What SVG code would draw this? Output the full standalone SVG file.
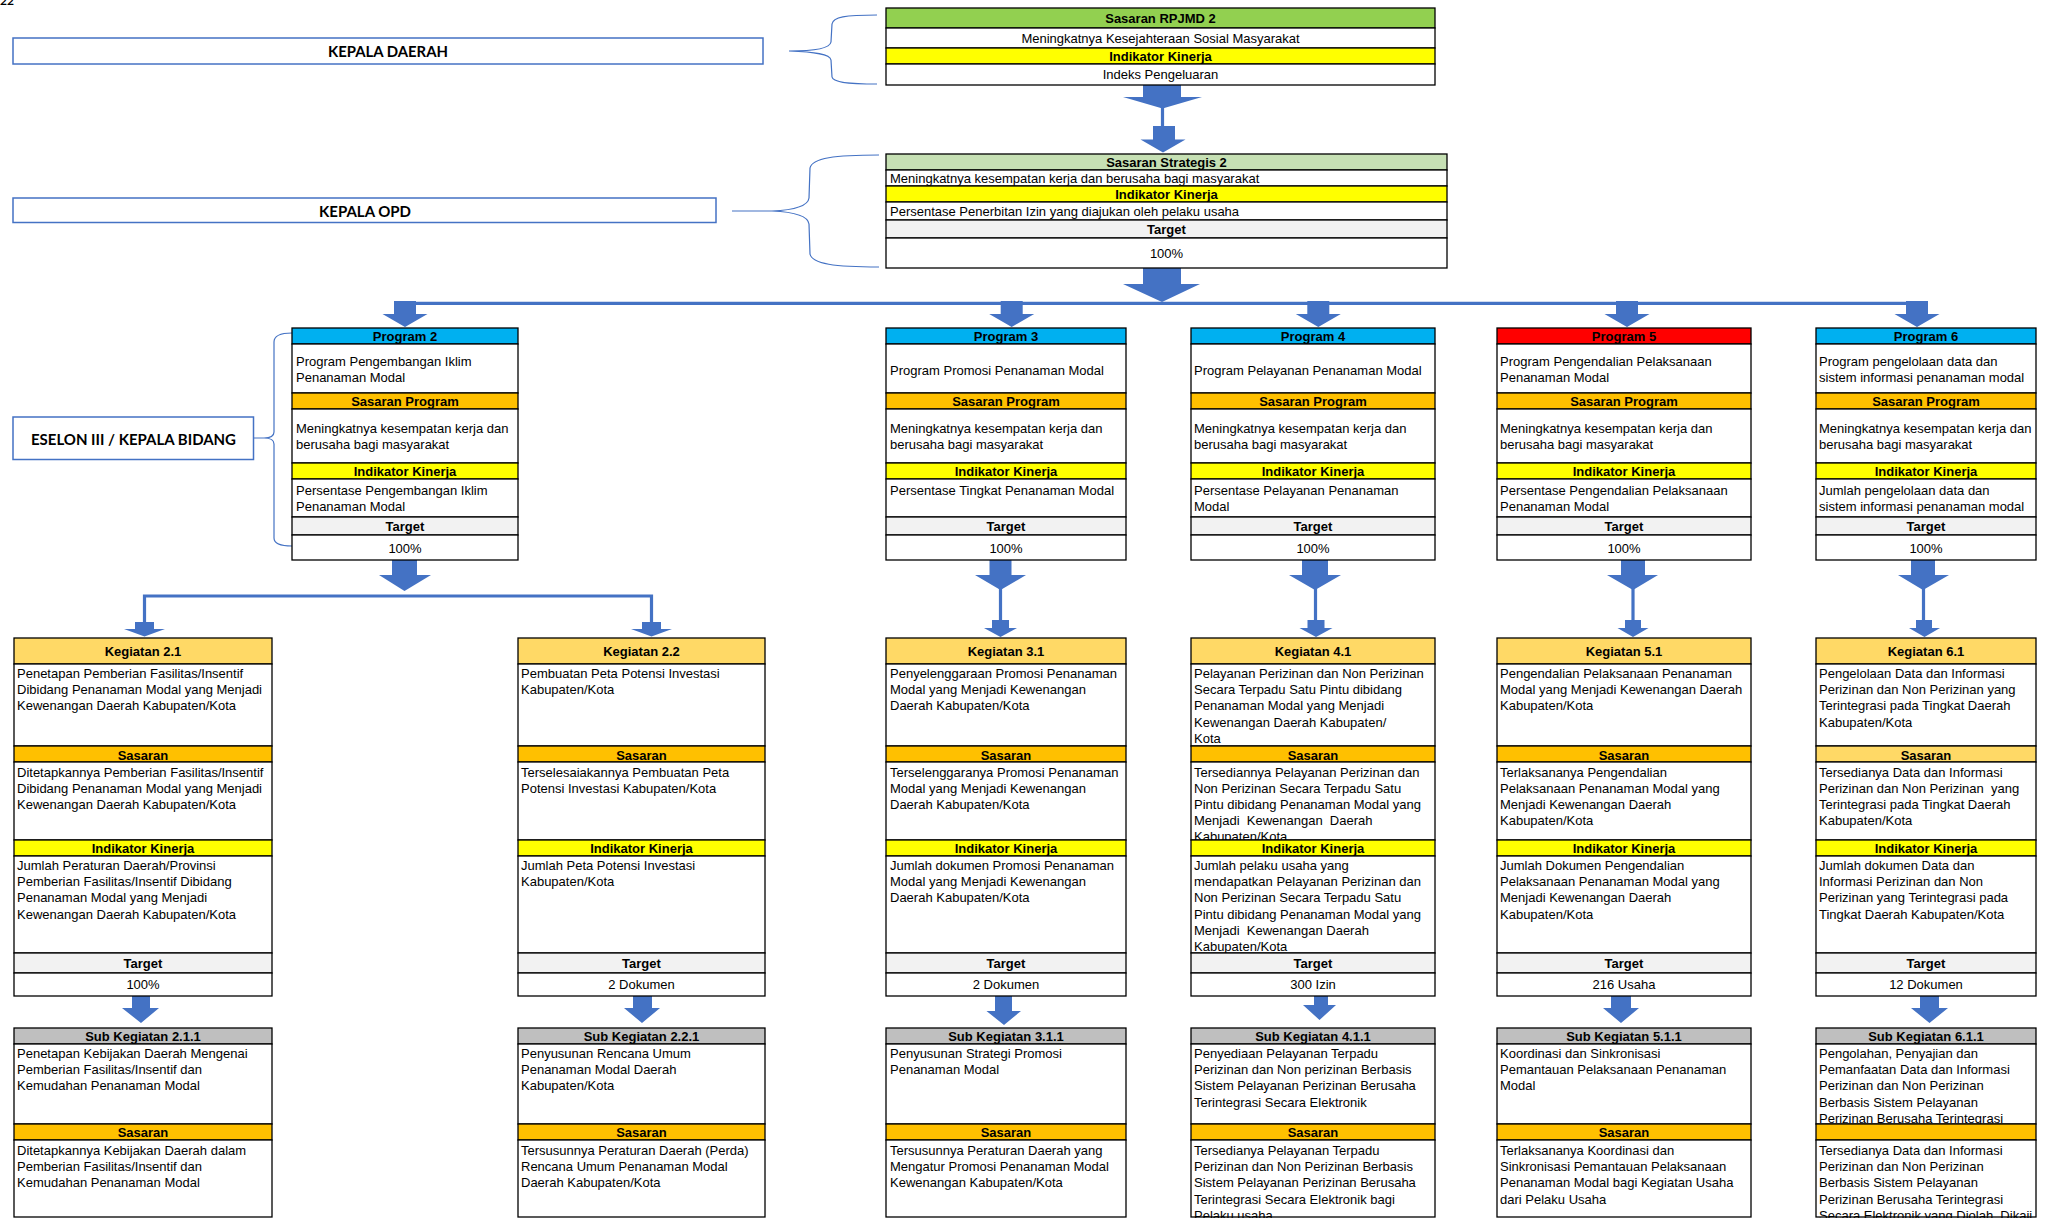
<svg xmlns="http://www.w3.org/2000/svg" width="2046" height="1218" viewBox="0 0 2046 1218">
<style>
.t{font-family:"Liberation Sans",Arial,sans-serif;font-size:13px;fill:#000}
.h{font-weight:bold;text-anchor:middle}
.c{text-anchor:middle}
.bx{stroke:#000;stroke-width:1.3}
.w{fill:#fff}
.gr{fill:#92D050}.lg{fill:#C6E0B4}.ye{fill:#FFFF00}.bl{fill:#00B0F0}.rd{fill:#FF0000}
.or{fill:#FFC000}.go{fill:#FFD966}.tg{fill:#F2F2F2}.sg{fill:#BFBFBF}
.ar{fill:#4472C4}
.ln{fill:none;stroke:#4472C4;stroke-width:3.2}
.br{fill:none;stroke:#4472C4;stroke-width:1.2}
.lb{fill:#fff;stroke:#4472C4;stroke-width:1.5}
.lt{font-family:Lato,"Open Sans",sans-serif;font-weight:bold;font-size:16px;text-anchor:middle;fill:#000}
</style>
<rect width="2046" height="1218" fill="#fff"/>
<text x="0" y="5" style="font-family:Lato,sans-serif;font-weight:bold;font-size:12px">22</text>

<!-- role labels -->
<g id="kepala-daerah">
<rect class="lb" x="13" y="38" width="750" height="26"/>
<text class="lt" x="388" y="57" textLength="120" lengthAdjust="spacingAndGlyphs">KEPALA DAERAH</text>
</g>
<g id="kepala-opd">
<rect class="lb" x="13" y="198" width="703" height="24.5"/>
<text class="lt" x="365" y="216.5" textLength="92" lengthAdjust="spacingAndGlyphs">KEPALA OPD</text>
</g>
<g id="eselon-iii">
<rect class="lb" x="13" y="417" width="240.5" height="42.5"/>
<text class="lt" x="133.5" y="445" textLength="205" lengthAdjust="spacingAndGlyphs">ESELON III / KEPALA BIDANG</text>
</g>

<!-- connectors -->
<g id="connectors">
<path class="br" d="M877,15 C845,15 833,17 832,24 L831,42 C830,48 815,51 789,51 C815,52 830,54 831,60 L832,77 C833,82 845,84 877,84"/>
<path class="br" d="M732,211 H772 M879,155 C835,155 812,158 810,168 L809,198 C808,206 795,210 772,211 C795,212 808,216 809,224 L810,254 C812,264 835,267 879,267"/>
<path class="br" d="M254,438 H264 M292,333 C280,333 274,336 274,342 L274,432 C274,436 271,438 264,438 C271,438 274,440 274,444 L274,538 C274,543 280,546 292,546"/>

<polygon class="ar" points="1143,85 1181,85 1181,97 1202,97 1162.5,108.5 1123,97 1143,97"/>
<line class="ln" x1="1162.5" y1="107" x2="1162.5" y2="127"/>
<polygon class="ar" points="1153,126 1175,126 1175,139.5 1185.5,139.5 1163,152.5 1140.5,139.5 1153,139.5"/>

<polygon class="ar" points="1143,268 1181,268 1181,284 1200,284 1162,302 1123,284 1143,284"/>
<line class="ln" x1="405" y1="303.3" x2="1917" y2="303.3"/>
<polygon class="ar" points="394,301 416,301 416,314 427.5,314 405,327 382.5,314 394,314"/>
<polygon class="ar" points="1000.7,301 1022.7,301 1022.7,314 1034.2,314 1011.7,327 989.2,314 1000.7,314"/>
<polygon class="ar" points="1307.3,301 1329.3,301 1329.3,314 1340.8,314 1318.3,327 1295.8,314 1307.3,314"/>
<polygon class="ar" points="1616,301 1638,301 1638,314 1649.5,314 1627,327 1604.5,314 1616,314"/>
<polygon class="ar" points="1906,301 1928,301 1928,314 1939.5,314 1917,327 1894.5,314 1906,314"/>

<polygon class="ar" points="392,560 417,560 417,575 431,575 404.5,591 379,575 392,575"/>
<path class="ln" d="M144.5,624 V596 H651.5 V624"/>
<polygon class="ar" points="135,622 154,622 154,629 165,629 144.5,636.5 124,629 135,629"/>
<polygon class="ar" points="642,622 661,622 661,629 672,629 651.5,636.5 631,629 642,629"/>

<polygon class="ar" points="989.5,560 1011.5,560 1011.5,575 1026,575 1000.5,590 975,575 989.5,575"/>
<line class="ln" x1="1000.5" y1="588" x2="1000.5" y2="621"/>
<polygon class="ar" points="992,620 1009,620 1009,628 1017,628 1000.5,637 984,628 992,628"/>

<polygon class="ar" points="1302,560 1328,560 1328,575 1341,575 1315,590 1289,575 1302,575"/>
<line class="ln" x1="1315.5" y1="588" x2="1315.5" y2="621"/>
<polygon class="ar" points="1307.5,620 1324.5,620 1324.5,628 1332.5,628 1316,637 1299.5,628 1307.5,628"/>

<polygon class="ar" points="1621,560 1645,560 1645,575 1658,575 1633,590 1607,575 1621,575"/>
<line class="ln" x1="1633" y1="588" x2="1633" y2="621"/>
<polygon class="ar" points="1625,620 1641,620 1641,628 1648.5,628 1633,637 1617.5,628 1625,628"/>

<polygon class="ar" points="1911,560 1935,560 1935,575 1949,575 1923,590 1898,575 1911,575"/>
<line class="ln" x1="1923.5" y1="588" x2="1923.5" y2="621"/>
<polygon class="ar" points="1916,620 1932,620 1932,628 1940,628 1924.5,637 1909,628 1916,628"/>

<polygon class="ar" points="132,996 150,996 150,1008 159,1008 141,1023 122,1008 132,1008"/>
<polygon class="ar" points="633,996 652,996 652,1008 660,1008 642,1023 624,1008 633,1008"/>
<polygon class="ar" points="995,996 1012,996 1012,1011 1021,1011 1004,1025 986.5,1011 995,1011"/>
<polygon class="ar" points="1314,996 1328,996 1328,1005 1336,1005 1319.5,1020 1303,1005 1314,1005"/>
<polygon class="ar" points="1611,996 1631,996 1631,1008 1639,1008 1621,1023 1603,1008 1611,1008"/>
<polygon class="ar" points="1920,996 1939,996 1939,1008 1948,1008 1929.5,1023 1911,1008 1920,1008"/>
</g>

<!-- top -->
<g id="sasaran-rpjmd-2">
<rect class="bx gr" x="886" y="8" width="549" height="20"/>
<text class="t h" x="1160.5" y="23">Sasaran RPJMD 2</text>
<rect class="bx w" x="886" y="28" width="549" height="20"/>
<text class="t c" x="1160.5" y="43">Meningkatnya Kesejahteraan Sosial Masyarakat</text>
<rect class="bx ye" x="886" y="48" width="549" height="16"/>
<text class="t h" x="1160.5" y="61">Indikator Kinerja</text>
<rect class="bx w" x="886" y="64" width="549" height="21"/>
<text class="t c" x="1160.5" y="79">Indeks Pengeluaran</text>
</g>

<g id="sasaran-strategis-2">
<rect class="bx lg" x="886" y="154" width="561" height="16"/>
<text class="t h" x="1166.5" y="167">Sasaran Strategis 2</text>
<rect class="bx w" x="886" y="170" width="561" height="16"/>
<text class="t" x="890" y="183">Meningkatnya kesempatan kerja dan berusaha bagi masyarakat</text>
<rect class="bx ye" x="886" y="186" width="561" height="16"/>
<text class="t h" x="1166.5" y="199">Indikator Kinerja</text>
<rect class="bx w" x="886" y="202" width="561" height="18"/>
<text class="t" x="890" y="216">Persentase Penerbitan Izin yang diajukan oleh pelaku usaha</text>
<rect class="bx tg" x="886" y="220" width="561" height="18"/>
<text class="t h" x="1166.5" y="234">Target</text>
<rect class="bx w" x="886" y="238" width="561" height="30"/>
<text class="t c" x="1166.5" y="258">100%</text>
</g>

<!-- programs -->
<g id="program-2">
<rect class="bx bl" x="292" y="328" width="226" height="16"/>
<text class="t h" x="405" y="341">Program 2</text>
<rect class="bx w" x="292" y="344" width="226" height="49"/>
<text class="t" x="296" y="366">Program Pengembangan Iklim<tspan x="296" dy="16">Penanaman Modal</tspan></text>
<rect class="bx or" x="292" y="393" width="226" height="16"/>
<text class="t h" x="405" y="406">Sasaran Program</text>
<rect class="bx w" x="292" y="409" width="226" height="54"/>
<text class="t" x="296" y="433">Meningkatnya kesempatan kerja dan<tspan x="296" dy="16">berusaha bagi masyarakat</tspan></text>
<rect class="bx ye" x="292" y="463" width="226" height="16"/>
<text class="t h" x="405" y="476">Indikator Kinerja</text>
<rect class="bx w" x="292" y="479" width="226" height="38"/>
<text class="t" x="296" y="495">Persentase Pengembangan Iklim<tspan x="296" dy="16">Penanaman Modal</tspan></text>
<rect class="bx tg" x="292" y="517" width="226" height="18"/>
<text class="t h" x="405" y="531">Target</text>
<rect class="bx w" x="292" y="535" width="226" height="25"/>
<text class="t c" x="405" y="553">100%</text>
</g>

<g id="program-3">
<rect class="bx bl" x="886" y="328" width="240" height="16"/>
<text class="t h" x="1006" y="341">Program 3</text>
<rect class="bx w" x="886" y="344" width="240" height="49"/>
<text class="t" x="890" y="375">Program Promosi Penanaman Modal</text>
<rect class="bx or" x="886" y="393" width="240" height="16"/>
<text class="t h" x="1006" y="406">Sasaran Program</text>
<rect class="bx w" x="886" y="409" width="240" height="54"/>
<text class="t" x="890" y="433">Meningkatnya kesempatan kerja dan<tspan x="890" dy="16">berusaha bagi masyarakat</tspan></text>
<rect class="bx ye" x="886" y="463" width="240" height="16"/>
<text class="t h" x="1006" y="476">Indikator Kinerja</text>
<rect class="bx w" x="886" y="479" width="240" height="38"/>
<text class="t" x="890" y="495">Persentase Tingkat Penanaman Modal</text>
<rect class="bx tg" x="886" y="517" width="240" height="18"/>
<text class="t h" x="1006" y="531">Target</text>
<rect class="bx w" x="886" y="535" width="240" height="25"/>
<text class="t c" x="1006" y="553">100%</text>
</g>

<g id="program-4">
<rect class="bx bl" x="1191" y="328" width="244" height="16"/>
<text class="t h" x="1313" y="341">Program 4</text>
<rect class="bx w" x="1191" y="344" width="244" height="49"/>
<text class="t" x="1194" y="375">Program Pelayanan Penanaman Modal</text>
<rect class="bx or" x="1191" y="393" width="244" height="16"/>
<text class="t h" x="1313" y="406">Sasaran Program</text>
<rect class="bx w" x="1191" y="409" width="244" height="54"/>
<text class="t" x="1194" y="433">Meningkatnya kesempatan kerja dan<tspan x="1194" dy="16">berusaha bagi masyarakat</tspan></text>
<rect class="bx ye" x="1191" y="463" width="244" height="16"/>
<text class="t h" x="1313" y="476">Indikator Kinerja</text>
<rect class="bx w" x="1191" y="479" width="244" height="38"/>
<text class="t" x="1194" y="495">Persentase Pelayanan Penanaman<tspan x="1194" dy="16">Modal</tspan></text>
<rect class="bx tg" x="1191" y="517" width="244" height="18"/>
<text class="t h" x="1313" y="531">Target</text>
<rect class="bx w" x="1191" y="535" width="244" height="25"/>
<text class="t c" x="1313" y="553">100%</text>
</g>

<g id="program-5">
<rect class="bx rd" x="1497" y="328" width="254" height="16"/>
<text class="t h" x="1624" y="341">Program 5</text>
<rect class="bx w" x="1497" y="344" width="254" height="49"/>
<text class="t" x="1500" y="366">Program Pengendalian Pelaksanaan<tspan x="1500" dy="16">Penanaman Modal</tspan></text>
<rect class="bx or" x="1497" y="393" width="254" height="16"/>
<text class="t h" x="1624" y="406">Sasaran Program</text>
<rect class="bx w" x="1497" y="409" width="254" height="54"/>
<text class="t" x="1500" y="433">Meningkatnya kesempatan kerja dan<tspan x="1500" dy="16">berusaha bagi masyarakat</tspan></text>
<rect class="bx ye" x="1497" y="463" width="254" height="16"/>
<text class="t h" x="1624" y="476">Indikator Kinerja</text>
<rect class="bx w" x="1497" y="479" width="254" height="38"/>
<text class="t" x="1500" y="495">Persentase Pengendalian Pelaksanaan<tspan x="1500" dy="16">Penanaman Modal</tspan></text>
<rect class="bx tg" x="1497" y="517" width="254" height="18"/>
<text class="t h" x="1624" y="531">Target</text>
<rect class="bx w" x="1497" y="535" width="254" height="25"/>
<text class="t c" x="1624" y="553">100%</text>
</g>

<g id="program-6">
<rect class="bx bl" x="1816" y="328" width="220" height="16"/>
<text class="t h" x="1926" y="341">Program 6</text>
<rect class="bx w" x="1816" y="344" width="220" height="49"/>
<text class="t" x="1819" y="366">Program pengelolaan data dan<tspan x="1819" dy="16">sistem informasi penanaman modal</tspan></text>
<rect class="bx or" x="1816" y="393" width="220" height="16"/>
<text class="t h" x="1926" y="406">Sasaran Program</text>
<rect class="bx w" x="1816" y="409" width="220" height="54"/>
<text class="t" x="1819" y="433">Meningkatnya kesempatan kerja dan<tspan x="1819" dy="16">berusaha bagi masyarakat</tspan></text>
<rect class="bx ye" x="1816" y="463" width="220" height="16"/>
<text class="t h" x="1926" y="476">Indikator Kinerja</text>
<rect class="bx w" x="1816" y="479" width="220" height="38"/>
<text class="t" x="1819" y="495">Jumlah pengelolaan data dan<tspan x="1819" dy="16">sistem informasi penanaman modal</tspan></text>
<rect class="bx tg" x="1816" y="517" width="220" height="18"/>
<text class="t h" x="1926" y="531">Target</text>
<rect class="bx w" x="1816" y="535" width="220" height="25"/>
<text class="t c" x="1926" y="553">100%</text>
</g>

<!-- kegiatan -->
<g id="kegiatan-2-1">
<rect class="bx go" x="14" y="638" width="258" height="26"/>
<text class="t h" x="143" y="656">Kegiatan 2.1</text>
<rect class="bx w" x="14" y="664" width="258" height="82"/>
<text class="t" x="17" y="678">Penetapan Pemberian Fasilitas/Insentif<tspan x="17" dy="16.2">Dibidang Penanaman Modal yang Menjadi</tspan><tspan x="17" dy="16.2">Kewenangan Daerah Kabupaten/Kota</tspan></text>
<rect class="bx or" x="14" y="746" width="258" height="16"/>
<text class="t h" x="143" y="759.5">Sasaran</text>
<rect class="bx w" x="14" y="762" width="258" height="78"/>
<text class="t" x="17" y="776.5">Ditetapkannya Pemberian Fasilitas/Insentif<tspan x="17" dy="16.2">Dibidang Penanaman Modal yang Menjadi</tspan><tspan x="17" dy="16.2">Kewenangan Daerah Kabupaten/Kota</tspan></text>
<rect class="bx ye" x="14" y="840" width="258" height="16"/>
<text class="t h" x="143" y="853">Indikator Kinerja</text>
<rect class="bx w" x="14" y="856" width="258" height="97"/>
<text class="t" x="17" y="870">Jumlah Peraturan Daerah/Provinsi<tspan x="17" dy="16.2">Pemberian Fasilitas/Insentif Dibidang</tspan><tspan x="17" dy="16.2">Penanaman Modal yang Menjadi</tspan><tspan x="17" dy="16.2">Kewenangan Daerah Kabupaten/Kota</tspan></text>
<rect class="bx tg" x="14" y="953" width="258" height="20"/>
<text class="t h" x="143" y="968">Target</text>
<rect class="bx w" x="14" y="973" width="258" height="23"/>
<text class="t c" x="143" y="989">100%</text>
</g>

<g id="kegiatan-2-2">
<rect class="bx go" x="518" y="638" width="247" height="26"/>
<text class="t h" x="641.5" y="656">Kegiatan 2.2</text>
<rect class="bx w" x="518" y="664" width="247" height="82"/>
<text class="t" x="521" y="678">Pembuatan Peta Potensi Investasi<tspan x="521" dy="16.2">Kabupaten/Kota</tspan></text>
<rect class="bx or" x="518" y="746" width="247" height="16"/>
<text class="t h" x="641.5" y="759.5">Sasaran</text>
<rect class="bx w" x="518" y="762" width="247" height="78"/>
<text class="t" x="521" y="776.5">Terselesaiakannya Pembuatan Peta<tspan x="521" dy="16.2">Potensi Investasi Kabupaten/Kota</tspan></text>
<rect class="bx ye" x="518" y="840" width="247" height="16"/>
<text class="t h" x="641.5" y="853">Indikator Kinerja</text>
<rect class="bx w" x="518" y="856" width="247" height="97"/>
<text class="t" x="521" y="870">Jumlah Peta Potensi Investasi<tspan x="521" dy="16.2">Kabupaten/Kota</tspan></text>
<rect class="bx tg" x="518" y="953" width="247" height="20"/>
<text class="t h" x="641.5" y="968">Target</text>
<rect class="bx w" x="518" y="973" width="247" height="23"/>
<text class="t c" x="641.5" y="989">2 Dokumen</text>
</g>

<g id="kegiatan-3-1">
<rect class="bx go" x="886" y="638" width="240" height="26"/>
<text class="t h" x="1006" y="656">Kegiatan 3.1</text>
<rect class="bx w" x="886" y="664" width="240" height="82"/>
<text class="t" x="890" y="678">Penyelenggaraan Promosi Penanaman<tspan x="890" dy="16.2">Modal yang Menjadi Kewenangan</tspan><tspan x="890" dy="16.2">Daerah Kabupaten/Kota</tspan></text>
<rect class="bx or" x="886" y="746" width="240" height="16"/>
<text class="t h" x="1006" y="759.5">Sasaran</text>
<rect class="bx w" x="886" y="762" width="240" height="78"/>
<text class="t" x="890" y="776.5">Terselenggaranya Promosi Penanaman<tspan x="890" dy="16.2">Modal yang Menjadi Kewenangan</tspan><tspan x="890" dy="16.2">Daerah Kabupaten/Kota</tspan></text>
<rect class="bx ye" x="886" y="840" width="240" height="16"/>
<text class="t h" x="1006" y="853">Indikator Kinerja</text>
<rect class="bx w" x="886" y="856" width="240" height="97"/>
<text class="t" x="890" y="870">Jumlah dokumen Promosi Penanaman<tspan x="890" dy="16.2">Modal yang Menjadi Kewenangan</tspan><tspan x="890" dy="16.2">Daerah Kabupaten/Kota</tspan></text>
<rect class="bx tg" x="886" y="953" width="240" height="20"/>
<text class="t h" x="1006" y="968">Target</text>
<rect class="bx w" x="886" y="973" width="240" height="23"/>
<text class="t c" x="1006" y="989">2 Dokumen</text>
</g>

<g id="kegiatan-4-1">
<rect class="bx go" x="1191" y="638" width="244" height="26"/>
<text class="t h" x="1313" y="656">Kegiatan 4.1</text>
<rect class="bx w" x="1191" y="664" width="244" height="82"/>
<text class="t" x="1194" y="678">Pelayanan Perizinan dan Non Perizinan<tspan x="1194" dy="16.2">Secara Terpadu Satu Pintu dibidang</tspan><tspan x="1194" dy="16.2">Penanaman Modal yang Menjadi</tspan><tspan x="1194" dy="16.2">Kewenangan Daerah Kabupaten/</tspan><tspan x="1194" dy="16.2">Kota</tspan></text>
<rect class="bx or" x="1191" y="746" width="244" height="16"/>
<text class="t h" x="1313" y="759.5">Sasaran</text>
<rect class="bx w" x="1191" y="762" width="244" height="78"/>
<text class="t" x="1194" y="776.5" xml:space="preserve">Tersediannya Pelayanan Perizinan dan<tspan x="1194" dy="16.2">Non Perizinan Secara Terpadu Satu</tspan><tspan x="1194" dy="16.2">Pintu dibidang Penanaman Modal yang</tspan><tspan x="1194" dy="16.2">Menjadi  Kewenangan  Daerah</tspan><tspan x="1194" dy="16.2">Kabupaten/Kota</tspan></text>
<rect class="bx ye" x="1191" y="840" width="244" height="16"/>
<text class="t h" x="1313" y="853">Indikator Kinerja</text>
<rect class="bx w" x="1191" y="856" width="244" height="97"/>
<text class="t" x="1194" y="870" xml:space="preserve">Jumlah pelaku usaha yang<tspan x="1194" dy="16.2">mendapatkan Pelayanan Perizinan dan</tspan><tspan x="1194" dy="16.2">Non Perizinan Secara Terpadu Satu</tspan><tspan x="1194" dy="16.2">Pintu dibidang Penanaman Modal yang</tspan><tspan x="1194" dy="16.2">Menjadi  Kewenangan Daerah</tspan><tspan x="1194" dy="16.2">Kabupaten/Kota</tspan></text>
<rect class="bx tg" x="1191" y="953" width="244" height="20"/>
<text class="t h" x="1313" y="968">Target</text>
<rect class="bx w" x="1191" y="973" width="244" height="23"/>
<text class="t c" x="1313" y="989">300 Izin</text>
</g>

<g id="kegiatan-5-1">
<rect class="bx go" x="1497" y="638" width="254" height="26"/>
<text class="t h" x="1624" y="656">Kegiatan 5.1</text>
<rect class="bx w" x="1497" y="664" width="254" height="82"/>
<text class="t" x="1500" y="678">Pengendalian Pelaksanaan Penanaman<tspan x="1500" dy="16.2">Modal yang Menjadi Kewenangan Daerah</tspan><tspan x="1500" dy="16.2">Kabupaten/Kota</tspan></text>
<rect class="bx or" x="1497" y="746" width="254" height="16"/>
<text class="t h" x="1624" y="759.5">Sasaran</text>
<rect class="bx w" x="1497" y="762" width="254" height="78"/>
<text class="t" x="1500" y="776.5">Terlaksananya Pengendalian<tspan x="1500" dy="16.2">Pelaksanaan Penanaman Modal yang</tspan><tspan x="1500" dy="16.2">Menjadi Kewenangan Daerah</tspan><tspan x="1500" dy="16.2">Kabupaten/Kota</tspan></text>
<rect class="bx ye" x="1497" y="840" width="254" height="16"/>
<text class="t h" x="1624" y="853">Indikator Kinerja</text>
<rect class="bx w" x="1497" y="856" width="254" height="97"/>
<text class="t" x="1500" y="870">Jumlah Dokumen Pengendalian<tspan x="1500" dy="16.2">Pelaksanaan Penanaman Modal yang</tspan><tspan x="1500" dy="16.2">Menjadi Kewenangan Daerah</tspan><tspan x="1500" dy="16.2">Kabupaten/Kota</tspan></text>
<rect class="bx tg" x="1497" y="953" width="254" height="20"/>
<text class="t h" x="1624" y="968">Target</text>
<rect class="bx w" x="1497" y="973" width="254" height="23"/>
<text class="t c" x="1624" y="989">216 Usaha</text>
</g>

<g id="kegiatan-6-1">
<rect class="bx go" x="1816" y="638" width="220" height="26"/>
<text class="t h" x="1926" y="656">Kegiatan 6.1</text>
<rect class="bx w" x="1816" y="664" width="220" height="82"/>
<text class="t" x="1819" y="678">Pengelolaan Data dan Informasi<tspan x="1819" dy="16.2">Perizinan dan Non Perizinan yang</tspan><tspan x="1819" dy="16.2">Terintegrasi pada Tingkat Daerah</tspan><tspan x="1819" dy="16.2">Kabupaten/Kota</tspan></text>
<rect class="bx go" x="1816" y="746" width="220" height="16"/>
<text class="t h" x="1926" y="759.5">Sasaran</text>
<rect class="bx w" x="1816" y="762" width="220" height="78"/>
<text class="t" x="1819" y="776.5" xml:space="preserve">Tersedianya Data dan Informasi<tspan x="1819" dy="16.2">Perizinan dan Non Perizinan  yang</tspan><tspan x="1819" dy="16.2">Terintegrasi pada Tingkat Daerah</tspan><tspan x="1819" dy="16.2">Kabupaten/Kota</tspan></text>
<rect class="bx ye" x="1816" y="840" width="220" height="16"/>
<text class="t h" x="1926" y="853">Indikator Kinerja</text>
<rect class="bx w" x="1816" y="856" width="220" height="97"/>
<text class="t" x="1819" y="870">Jumlah dokumen Data dan<tspan x="1819" dy="16.2">Informasi Perizinan dan Non</tspan><tspan x="1819" dy="16.2">Perizinan yang Terintegrasi pada</tspan><tspan x="1819" dy="16.2">Tingkat Daerah Kabupaten/Kota</tspan></text>
<rect class="bx tg" x="1816" y="953" width="220" height="20"/>
<text class="t h" x="1926" y="968">Target</text>
<rect class="bx w" x="1816" y="973" width="220" height="23"/>
<text class="t c" x="1926" y="989">12 Dokumen</text>
</g>

<!-- sub kegiatan -->
<g id="sub-kegiatan-2-1-1">
<rect class="bx sg" x="14" y="1028" width="258" height="16"/>
<text class="t h" x="143" y="1041">Sub Kegiatan 2.1.1</text>
<rect class="bx w" x="14" y="1044" width="258" height="80"/>
<text class="t" x="17" y="1058">Penetapan Kebijakan Daerah Mengenai<tspan x="17" dy="16.2">Pemberian Fasilitas/Insentif dan</tspan><tspan x="17" dy="16.2">Kemudahan Penanaman Modal</tspan></text>
<rect class="bx or" x="14" y="1124" width="258" height="16"/>
<text class="t h" x="143" y="1137">Sasaran</text>
<rect class="bx w" x="14" y="1140" width="258" height="77"/>
<text class="t" x="17" y="1155">Ditetapkannya Kebijakan Daerah dalam<tspan x="17" dy="16.2">Pemberian Fasilitas/Insentif dan</tspan><tspan x="17" dy="16.2">Kemudahan Penanaman Modal</tspan></text>
</g>

<g id="sub-kegiatan-2-2-1">
<rect class="bx sg" x="518" y="1028" width="247" height="16"/>
<text class="t h" x="641.5" y="1041">Sub Kegiatan 2.2.1</text>
<rect class="bx w" x="518" y="1044" width="247" height="80"/>
<text class="t" x="521" y="1058">Penyusunan Rencana Umum<tspan x="521" dy="16.2">Penanaman Modal Daerah</tspan><tspan x="521" dy="16.2">Kabupaten/Kota</tspan></text>
<rect class="bx or" x="518" y="1124" width="247" height="16"/>
<text class="t h" x="641.5" y="1137">Sasaran</text>
<rect class="bx w" x="518" y="1140" width="247" height="77"/>
<text class="t" x="521" y="1155">Tersusunnya Peraturan Daerah (Perda)<tspan x="521" dy="16.2">Rencana Umum Penanaman Modal</tspan><tspan x="521" dy="16.2">Daerah Kabupaten/Kota</tspan></text>
</g>

<g id="sub-kegiatan-3-1-1">
<rect class="bx sg" x="886" y="1028" width="240" height="16"/>
<text class="t h" x="1006" y="1041">Sub Kegiatan 3.1.1</text>
<rect class="bx w" x="886" y="1044" width="240" height="80"/>
<text class="t" x="890" y="1058">Penyusunan Strategi Promosi<tspan x="890" dy="16.2">Penanaman Modal</tspan></text>
<rect class="bx or" x="886" y="1124" width="240" height="16"/>
<text class="t h" x="1006" y="1137">Sasaran</text>
<rect class="bx w" x="886" y="1140" width="240" height="77"/>
<text class="t" x="890" y="1155">Tersusunnya Peraturan Daerah yang<tspan x="890" dy="16.2">Mengatur Promosi Penanaman Modal</tspan><tspan x="890" dy="16.2">Kewenangan Kabupaten/Kota</tspan></text>
</g>

<g id="sub-kegiatan-4-1-1">
<rect class="bx sg" x="1191" y="1028" width="244" height="16"/>
<text class="t h" x="1313" y="1041">Sub Kegiatan 4.1.1</text>
<rect class="bx w" x="1191" y="1044" width="244" height="80"/>
<text class="t" x="1194" y="1058">Penyediaan Pelayanan Terpadu<tspan x="1194" dy="16.2">Perizinan dan Non perizinan Berbasis</tspan><tspan x="1194" dy="16.2">Sistem Pelayanan Perizinan Berusaha</tspan><tspan x="1194" dy="16.2">Terintegrasi Secara Elektronik</tspan></text>
<rect class="bx or" x="1191" y="1124" width="244" height="16"/>
<text class="t h" x="1313" y="1137">Sasaran</text>
<rect class="bx w" x="1191" y="1140" width="244" height="77"/>
<text class="t" x="1194" y="1155">Tersedianya Pelayanan Terpadu<tspan x="1194" dy="16.2">Perizinan dan Non Perizinan Berbasis</tspan><tspan x="1194" dy="16.2">Sistem Pelayanan Perizinan Berusaha</tspan><tspan x="1194" dy="16.2">Terintegrasi Secara Elektronik bagi</tspan><tspan x="1194" dy="16.2">Pelaku usaha</tspan></text>
</g>

<g id="sub-kegiatan-5-1-1">
<rect class="bx sg" x="1497" y="1028" width="254" height="16"/>
<text class="t h" x="1624" y="1041">Sub Kegiatan 5.1.1</text>
<rect class="bx w" x="1497" y="1044" width="254" height="80"/>
<text class="t" x="1500" y="1058">Koordinasi dan Sinkronisasi<tspan x="1500" dy="16.2">Pemantauan Pelaksanaan Penanaman</tspan><tspan x="1500" dy="16.2">Modal</tspan></text>
<rect class="bx or" x="1497" y="1124" width="254" height="16"/>
<text class="t h" x="1624" y="1137">Sasaran</text>
<rect class="bx w" x="1497" y="1140" width="254" height="77"/>
<text class="t" x="1500" y="1155">Terlaksananya Koordinasi dan<tspan x="1500" dy="16.2">Sinkronisasi Pemantauan Pelaksanaan</tspan><tspan x="1500" dy="16.2">Penanaman Modal bagi Kegiatan Usaha</tspan><tspan x="1500" dy="16.2">dari Pelaku Usaha</tspan></text>
</g>

<g id="sub-kegiatan-6-1-1">
<rect class="bx sg" x="1816" y="1028" width="220" height="16"/>
<text class="t h" x="1926" y="1041">Sub Kegiatan 6.1.1</text>
<rect class="bx w" x="1816" y="1044" width="220" height="80"/>
<text class="t" x="1819" y="1058">Pengolahan, Penyajian dan<tspan x="1819" dy="16.2">Pemanfaatan Data dan Informasi</tspan><tspan x="1819" dy="16.2">Perizinan dan Non Perizinan</tspan><tspan x="1819" dy="16.2">Berbasis Sistem Pelayanan</tspan><tspan x="1819" dy="16.2">Perizinan Berusaha Terintegrasi</tspan></text>
<rect class="bx or" x="1816" y="1124" width="220" height="16"/>
<rect class="bx w" x="1816" y="1140" width="220" height="77"/>
<text class="t" x="1819" y="1155">Tersedianya Data dan Informasi<tspan x="1819" dy="16.2">Perizinan dan Non Perizinan</tspan><tspan x="1819" dy="16.2">Berbasis Sistem Pelayanan</tspan><tspan x="1819" dy="16.2">Perizinan Berusaha Terintegrasi</tspan><tspan x="1819" dy="16.2">Secara Elektronik yang Diolah, Dikaji</tspan></text>
</g>
</svg>
